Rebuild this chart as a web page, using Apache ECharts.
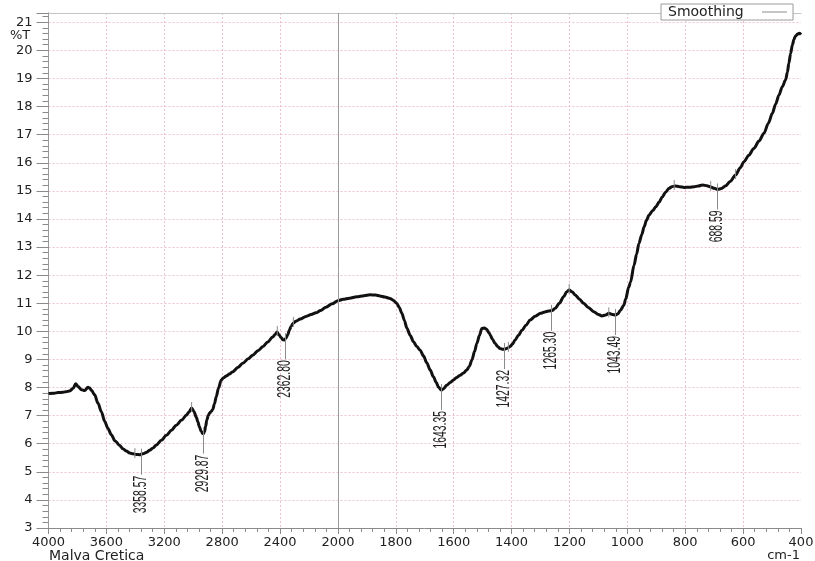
<!DOCTYPE html>
<html>
<head>
<meta charset="utf-8">
<script src="https://cdn.jsdelivr.net/npm/echarts@6/dist/echarts.min.js"></script>
<style>
  html, body { margin: 0; padding: 0; background: #fff; }
  #chart { width: 815px; height: 561px; }
</style>
</head>
<body>
<div id="chart"></div>
<script>
// FTIR transmittance spectrum, Malva cretica (smoothed trace)
const wavenumbers = [
  4000, 3960, 3934, 3900, 3870, 3853, 3830, 3812, 3796, 3772, 3750, 3727, 3715, 3703, 3681, 3658,
  3634, 3612, 3589, 3566, 3540, 3508, 3486, 3462, 3439, 3416, 3393, 3370, 3348, 3320, 3301, 3278,
  3255, 3220, 3186, 3150, 3117, 3080, 3048, 3030, 3011, 2995, 2979, 2968, 2957, 2945, 2935, 2928,
  2922, 2914, 2906, 2896, 2888, 2876, 2865, 2853, 2841, 2825, 2807, 2790, 2772, 2750, 2727, 2690,
  2658, 2620, 2589, 2550, 2520, 2485, 2451, 2432, 2421, 2408, 2393, 2380, 2370, 2360, 2347, 2335,
  2324, 2308, 2290, 2260, 2221, 2185, 2152, 2120, 2083, 2040, 2000, 1982, 1960, 1935, 1910, 1889,
  1870, 1855, 1838, 1820, 1808, 1797, 1788, 1779, 1770, 1762, 1750, 1739, 1728, 1716, 1704, 1693,
  1681, 1670, 1660, 1653, 1643, 1636, 1624, 1612, 1601, 1590, 1578, 1566, 1555, 1546, 1537, 1528,
  1520, 1511, 1503, 1494, 1486, 1478, 1474, 1466, 1457, 1448, 1440, 1430, 1422, 1413, 1405, 1396,
  1388, 1376, 1364, 1350, 1336, 1318, 1300, 1285, 1272, 1260, 1249, 1235, 1220, 1210, 1201, 1190,
  1180, 1165, 1151, 1135, 1116, 1100, 1088, 1075, 1064, 1052, 1041, 1032, 1024, 1012, 1006, 995,
  989, 977, 968, 960, 950, 942, 934, 925, 912, 902, 890, 879, 868, 856, 846, 836,
  820, 804, 785, 769, 755, 740, 725, 712, 700, 688, 675, 660, 645, 626, 610, 597,
  580, 563, 545, 528, 513, 499, 488, 476, 465, 453, 447, 442, 436, 430, 424, 419,
  412, 405, 400
];
const transmittance = [
  7.79, 7.80, 7.82, 7.83, 7.86, 7.88, 7.97, 8.13, 8.04, 7.92, 7.89, 8.01, 7.98, 7.90, 7.74, 7.44,
  7.13, 6.80, 6.54, 6.32, 6.10, 5.94, 5.82, 5.74, 5.67, 5.64, 5.62, 5.61, 5.64, 5.70, 5.77, 5.85,
  5.95, 6.12, 6.30, 6.48, 6.66, 6.84, 7.01, 7.12, 7.27, 7.15, 6.95, 6.78, 6.60, 6.44, 6.36, 6.36,
  6.42, 6.62, 6.84, 7.00, 7.08, 7.15, 7.22, 7.42, 7.67, 7.98, 8.26, 8.35, 8.41, 8.48, 8.56, 8.72,
  8.86, 9.02, 9.15, 9.32, 9.45, 9.62, 9.80, 9.90, 9.98, 9.88, 9.78, 9.70, 9.69, 9.75, 9.88, 10.05,
  10.17, 10.30, 10.36, 10.44, 10.53, 10.60, 10.66, 10.74, 10.86, 10.98, 11.09, 11.14, 11.18, 11.23, 11.27, 11.30,
  11.29, 11.26, 11.22, 11.17, 11.10, 11.00, 10.85, 10.64, 10.38, 10.12, 9.85, 9.63, 9.47, 9.33, 9.12, 8.88,
  8.62, 8.38, 8.18, 8.02, 7.91, 7.95, 8.08, 8.18, 8.27, 8.36, 8.44, 8.52, 8.62, 8.75, 8.98, 9.28,
  9.57, 9.85, 10.10, 10.12, 10.07, 9.95, 9.87, 9.72, 9.57, 9.46, 9.39, 9.36, 9.37, 9.41, 9.46, 9.56,
  9.69, 9.86, 10.04, 10.22, 10.40, 10.54, 10.64, 10.69, 10.72, 10.74, 10.82, 11.00, 11.23, 11.40, 11.47, 11.40,
  11.29, 11.14, 11.00, 10.85, 10.70, 10.60, 10.55, 10.58, 10.64, 10.60, 10.58, 10.63, 10.75, 10.93, 11.14, 11.58,
  11.75, 12.35, 12.75, 13.13, 13.45, 13.72, 13.95, 14.14, 14.30, 14.43, 14.60, 14.79, 14.95, 15.09, 15.15, 15.17,
  15.15, 15.12, 15.13, 15.15, 15.17, 15.21, 15.18, 15.14, 15.09, 15.05, 15.08, 15.18, 15.33, 15.56, 15.82, 16.04,
  16.27, 16.51, 16.77, 17.05, 17.40, 17.76, 18.08, 18.41, 18.70, 18.95, 19.22, 19.54, 19.88, 20.19, 20.40, 20.51,
  20.58, 20.61, 20.56
];

// Picked peaks (wavenumber, %T at the peak) and their printed labels
const peakWavenumbers = [3358.57, 2929.87, 2362.80, 1643.35, 1427.32, 1265.30, 1043.49, 688.59];
const peakTransmittance = [5.61, 6.36, 9.72, 7.91, 9.37, 10.73, 10.58, 15.05];
const peakLabels = ['3358.57', '2929.87', '2362.80', '1643.35', '1427.32', '1265.30', '1043.49', '688.59'];

// Peak-search boundary markers on the trace
const markerWavenumbers = [3403, 3011, 2419, 2308, 1411, 1201, 1064, 838, 712, 626];
const markerTransmittance = [5.63, 7.27, 9.98, 10.30, 9.41, 11.47, 10.64, 15.17, 15.14, 15.56];

// Wavenumber tick labels, one per axis division
const xTickLabels = ['4000', '3600', '3200', '2800', '2400', '2000', '1800', '1600', '1400',
                     '1200', '1000', '800', '600', '400'];

// The wavenumber axis is split at 2000 cm-1: 400 cm-1 per division above, 200 below.
function toPos(wn) {
  return wn >= 2000 ? (4000 - wn) / 400 : 5 + (2000 - wn) / 200;
}

const tracePoints = wavenumbers.map((w, i) => [toPos(w), transmittance[i]]);
const peakPoints = peakWavenumbers.map((w, i) => [toPos(w), peakTransmittance[i]]);
const markerPoints = markerWavenumbers.map((w, i) => [toPos(w), markerTransmittance[i]]);

const GRID_PINK = '#efbfd6';
const FRAME = '#9a9a9a';
const TEXT = '#222';
const FONT = 'DejaVu Sans';

// Vertical grid colours: left edge, 2000 split and right edge are drawn elsewhere.
const xSplitColors = xTickLabels.map((_, i) => (i === 0 || i === 5 || i === 13) ? 'rgba(0,0,0,0)' : GRID_PINK);
// Horizontal grid: 3..21 pink, the extra top tick (plot edge) left to the frame.
const ySplitColors = [];
for (let v = 3; v <= 21; v++) ySplitColors.push(v === 3 ? 'rgba(0,0,0,0)' : GRID_PINK);
ySplitColors.push('rgba(0,0,0,0)');

function renderMarker(params, api) {
  const pt = api.coord([api.value(0), api.value(1)]);
  return {
    type: 'line',
    shape: { x1: pt[0], y1: pt[1] - 6, x2: pt[0], y2: pt[1] + 4 },
    style: { stroke: '#8c8c8c', lineWidth: 1 }
  };
}

function renderPeak(params, api) {
  const pt = api.coord([api.value(0), api.value(1)]);
  const x = Math.round(pt[0]) + 0.5;
  return {
    type: 'group',
    children: [
      {
        type: 'line',
        shape: { x1: x, y1: pt[1] - 6, x2: x, y2: pt[1] + 20 },
        style: { stroke: '#8c8c8c', lineWidth: 1 }
      },
      {
        type: 'text',
        x: x,
        y: pt[1] + 21,
        rotation: Math.PI / 2,
        scaleY: 1.7,
        style: {
          text: peakLabels[params.dataIndex],
          fontSize: 10.4,
          fontFamily: 'Liberation Sans',
          fill: '#222',
          align: 'right',
          verticalAlign: 'middle'
        }
      }
    ]
  };
}

const chart = echarts.init(document.getElementById('chart'), null, { renderer: 'canvas' });

chart.setOption({
  animation: false,
  backgroundColor: '#fff',
  grid: {
    left: 48.5, right: 14, top: 13, bottom: 33,
    containLabel: false,
    outerBoundsMode: 'none'
  },
  legend: {
    data: ['Smoothing'],
    left: 661,
    top: 4,
    orient: 'horizontal',
    align: 'right',
    icon: 'rect',
    itemWidth: 25,
    itemHeight: 1,
    itemStyle: { color: '#8a8a8a' },
    backgroundColor: '#fff',
    borderColor: '#9a9a9a',
    borderWidth: 1,
    borderRadius: 0,
    padding: [1, 6, 1, 7],
    formatter: name => name + '\u00a0\u00a0\u00a0',
    textStyle: { fontFamily: FONT, fontSize: 14, color: TEXT }
  },
  xAxis: [
    {
      type: 'value',
      position: 'bottom',
      min: 0,
      max: 13,
      interval: 1,
      axisLine: { show: true, lineStyle: { color: '#8a8a8a', width: 1 } },
      axisTick: { show: true, inside: false, length: 6, lineStyle: { color: '#8a8a8a' } },
      minorTick: { show: true, splitNumber: 5, length: 4, lineStyle: { color: '#8a8a8a' } },
      axisLabel: {
        margin: 8,
        fontFamily: FONT,
        fontSize: 13,
        color: TEXT,
        formatter: v => xTickLabels[Math.round(v)] || ''
      },
      splitLine: { show: true, lineStyle: { color: xSplitColors, type: [2, 2], width: 1 } }
    },
    {
      type: 'value',
      position: 'top',
      min: 0,
      max: 13,
      axisLine: { show: true, lineStyle: { color: '#c4c4c4', width: 1 } },
      axisTick: { show: false },
      axisLabel: { show: false },
      splitLine: { show: false }
    }
  ],
  yAxis: [
    {
      type: 'value',
      position: 'left',
      min: 3,
      max: 21.33,
      interval: 1,
      axisLine: { show: true, lineStyle: { color: '#8a8a8a', width: 1 } },
      axisTick: { show: true, inside: false, length: 12, lineStyle: { color: '#8a8a8a' } },
      minorTick: { show: true, splitNumber: 5, length: 6, lineStyle: { color: '#8a8a8a' } },
      axisLabel: {
        margin: 16,
        fontFamily: FONT,
        fontSize: 13,
        color: TEXT,
        formatter: v => (Math.abs(v - Math.round(v)) < 1e-6 ? String(Math.round(v)) : '')
      },
      splitLine: { show: true, lineStyle: { color: ySplitColors, type: [2, 2], width: 1 } }
    },
    {
      type: 'value',
      position: 'right',
      min: 3,
      max: 21.33,
      axisLine: { show: true, lineStyle: { color: FRAME, width: 1 } },
      axisTick: { show: false },
      axisLabel: { show: false },
      splitLine: { show: false }
    }
  ],
  graphic: [
    {
      type: 'text', left: 10, top: 29,
      style: { text: '%T', fontFamily: FONT, fontSize: 13, fill: TEXT }
    },
    {
      type: 'text', left: 49, top: 549,
      style: { text: 'Malva Cretica', fontFamily: FONT, fontSize: 14, fill: TEXT }
    },
    {
      type: 'text', right: 15, top: 549,
      style: { text: 'cm-1', fontFamily: FONT, fontSize: 13, fill: TEXT }
    }
  ],
  series: [
    {
      name: 'Smoothing',
      type: 'line',
      xAxisIndex: 0,
      yAxisIndex: 0,
      data: tracePoints,
      showSymbol: false,
      symbol: 'none',
      smooth: 0.3,
      smoothMonotone: 'x',
      lineStyle: { color: '#111', width: 3 },
      itemStyle: { color: '#111' },
      z: 3,
      markLine: {
        silent: true,
        symbol: 'none',
        label: { show: false },
        lineStyle: { color: '#9a9a9a', type: 'solid', width: 1 },
        data: [{ xAxis: toPos(2000) }]
      }
    },
    {
      type: 'custom',
      xAxisIndex: 0,
      yAxisIndex: 0,
      silent: true,
      clip: false,
      z: 4,
      data: markerPoints,
      renderItem: renderMarker
    },
    {
      type: 'custom',
      xAxisIndex: 0,
      yAxisIndex: 0,
      silent: true,
      clip: false,
      z: 5,
      data: peakPoints,
      renderItem: renderPeak
    }
  ]
});
</script>
</body>
</html>
